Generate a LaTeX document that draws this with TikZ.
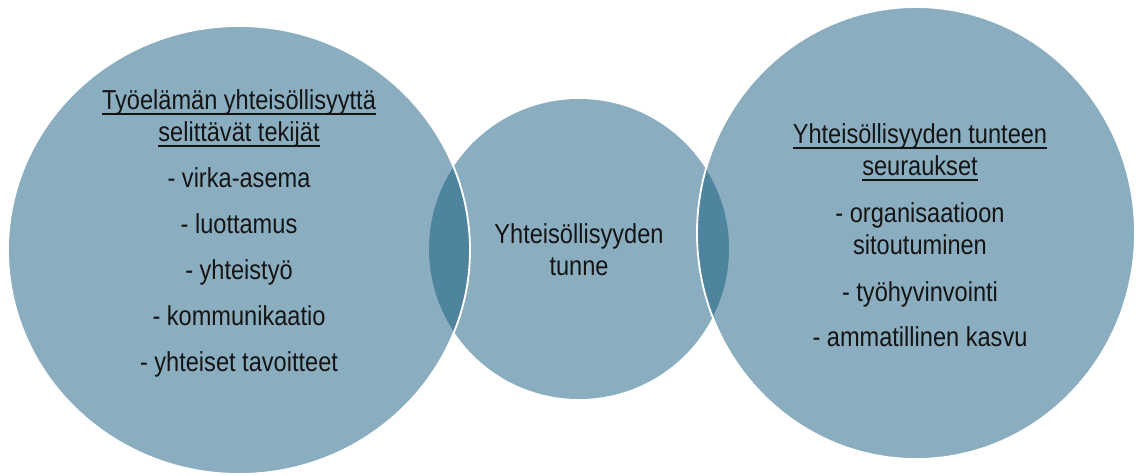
\documentclass[tikz,border=0pt]{standalone}
\usepackage{fontspec}
\setmainfont{Liberation Sans}[FakeStretch=0.86]
\usepackage{tikz}
\definecolor{lightblue}{HTML}{8AAEC0}
\definecolor{darkblue}{HTML}{4E849D}
\definecolor{inktext}{HTML}{141414}
\newcommand{\undl}[1]{\setbox0\hbox{#1}\rlap{\rule[-4pt]{\wd0}{1.2pt}}\box0}

\begin{document}
\begin{tikzpicture}[x=0.025cm, y=-0.025cm,
  label/.style = {align=center, text=inktext, inner sep=0pt,
    font=\fontsize{19.5}{23}\selectfont},
  outline/.style = {draw=white, line width=1.3pt}]
  \useasboundingbox (0,0) rectangle (1136,475);

  % circles
  \fill[lightblue] (579,249) circle[radius=150];
  \fill[lightblue] (239,250) ellipse[x radius=231, y radius=224];
  \fill[lightblue] (916,233) ellipse[x radius=219, y radius=226];

  % overlaps
  \begin{scope}
    \clip (579,249) circle[radius=150];
    \fill[darkblue] (239,250) ellipse[x radius=231, y radius=224];
    \fill[darkblue] (916,233) ellipse[x radius=219, y radius=226];
  \end{scope}
  \draw[outline] (239,250) ellipse[x radius=231, y radius=224];
  \draw[outline] (916,233) ellipse[x radius=219, y radius=226];

  \node[label] (causes) at (239,233) {\undl{Työelämän yhteisöllisyyttä}\\
    \undl{selittävät tekijät}\\[0.34cm]
    - virka-asema\\[0.34cm]
    - luottamus\\[0.34cm]
    - yhteistyö\\[0.34cm]
    - kommunikaatio\\[0.34cm]
    - yhteiset tavoitteet};
  \node[label] (feeling) at (579,250) {Yhteisöllisyyden\\tunne};
  \node[label] (effects) at (920,235) {\undl{Yhteisöllisyyden tunteen}\\
    \undl{seuraukset}\\[0.36cm]
    - organisaatioon\\
    sitoutuminen\\[0.36cm]
    - työhyvinvointi\\[0.32cm]
    - ammatillinen kasvu};
\end{tikzpicture}
\end{document}
